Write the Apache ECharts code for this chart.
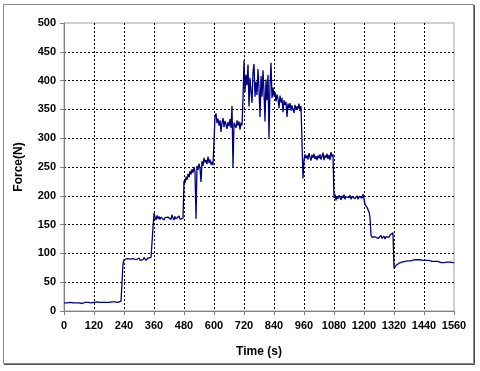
<!DOCTYPE html>
<html>
<head>
<meta charset="utf-8">
<script src="https://cdn.jsdelivr.net/npm/echarts@6/dist/echarts.min.js"></script>
<style>
html,body{margin:0;padding:0;background:#fff;}
#c{width:480px;height:371px;}
</style>
</head>
<body>
<div id="c"></div>
<script>
// Sampling interval of the recorded signal (seconds between samples)
const sampleStep = 4;
// Force readings (N), one per sample, rows of 60 s
const force = [
  14,13,15,14,13,14,15,14,13,14,15,14,14,13,15,
  14,15,14,13,15,14,15,14,14,15,14,15,14,15,14,
  15,14,15,16,14,15,15,14,16,15,15,16,15,14,16,
  15,16,15,16,17,15,16,17,16,15,17,16,17,18,82,
  89,92,88,91,93,89,90,92,88,91,90,93,89,91,90,
  92,88,91,90,89,93,90,88,91,92,89,90,93,91,95,
  170,163,158,166,160,164,159,163,161,166,158,162,165,160,163,
  161,164,159,167,162,158,164,160,163,157,165,159,162,158,161,
  226,222,233,228,238,232,243,237,246,240,250,242,160,252,245,
  256,248,224,260,252,266,258,262,255,268,257,263,254,259,253,
  295,338,343,326,334,322,331,311,327,335,319,330,324,316,328,
  321,333,318,356,249,327,325,318,331,322,329,315,327,322,370,
  435,380,410,392,428,355,405,382,361,415,429,372,398,375,420,
  385,337,408,372,418,380,329,402,366,410,301,392,431,370,388,
  372,380,364,376,368,352,374,362,370,345,366,358,363,337,360,
  352,361,348,357,350,344,358,349,355,351,360,347,356,356,230,
  262,272,265,270,263,274,267,261,271,266,273,264,269,262,270,
  265,272,263,269,275,262,270,266,273,264,271,262,276,268,272,
  196,203,192,199,195,201,197,193,200,196,202,194,198,195,199,
  197,201,194,199,196,202,195,198,200,194,199,197,201,196,203,
  204,185,183,180,176,172,162,132,128,131,126,129,127,130,126,
  129,127,131,126,128,130,125,129,127,131,128,132,130,134,136,
  74,77,79,81,82,83,84,84,85,86,85,86,87,86,87,
  86,88,87,88,87,89,88,87,89,88,87,89,88,87,88,
  88,87,88,86,87,88,86,87,86,87,85,86,87,85,86,
  85,86,84,85,86,84,85,84,85,83,84,85,83,84,84,
  84
];
const xTitle = 'Time (s)';
const yTitle = 'Force(N)';

const seriesData = force.map((v, i) => [i * sampleStep, v]);

const chart = echarts.init(document.getElementById('c'));
const labelFont = {fontFamily: 'Liberation Sans', fontWeight: 'bold', fontSize: 11, color: '#000'};
chart.setOption({
  animation: false,
  backgroundColor: '#fff',
  grid: {left: 64, top: 23, right: 26, bottom: 60, show: true, borderColor: '#a0a0a0', borderWidth: 1, backgroundColor: '#fff'},
  graphic: [
    {type: 'rect', shape: {x: 3.5, y: 4.5, width: 470, height: 359}, style: {fill: null, stroke: '#8a8a8a', lineWidth: 1}, silent: true},
    {type: 'polyline', shape: {points: [[474.5, 5], [474.5, 364.5], [4, 364.5]]}, style: {fill: null, stroke: '#505050', lineWidth: 1}, silent: true}
  ],
  xAxis: {
    type: 'value', min: 0, max: 1560, interval: 120,
    name: xTitle, nameLocation: 'middle', nameGap: 35,
    nameTextStyle: {fontFamily: 'Liberation Sans', fontWeight: 'bold', fontSize: 12, color: '#000'},
    axisLine: {show: true, lineStyle: {color: '#808080', width: 1}},
    axisTick: {show: true, inside: false, length: 4, lineStyle: {color: '#808080'}},
    axisLabel: Object.assign({margin: 9, formatter: v => String(v)}, labelFont),
    splitLine: {show: true, showMinLine: false, showMaxLine: false, lineStyle: {color: '#000', type: [2, 2], width: 1}}
  },
  yAxis: {
    type: 'value', min: 0, max: 500, interval: 50,
    name: yTitle, nameLocation: 'middle', nameGap: 39, nameRotate: 90,
    nameTextStyle: {fontFamily: 'Liberation Sans', fontWeight: 'bold', fontSize: 12, color: '#000'},
    axisLine: {show: true, lineStyle: {color: '#808080', width: 1}},
    axisTick: {show: true, inside: false, length: 4, lineStyle: {color: '#808080'}},
    axisLabel: Object.assign({margin: 8, formatter: v => String(v)}, labelFont),
    splitLine: {show: true, showMinLine: false, showMaxLine: false, lineStyle: {color: '#000', type: [2, 2], width: 1}}
  },
  series: [{
    type: 'line', data: seriesData, showSymbol: false, symbol: 'none',
    lineStyle: {color: '#000080', width: 1.3}, z: 5
  }]
});
</script>
</body>
</html>
